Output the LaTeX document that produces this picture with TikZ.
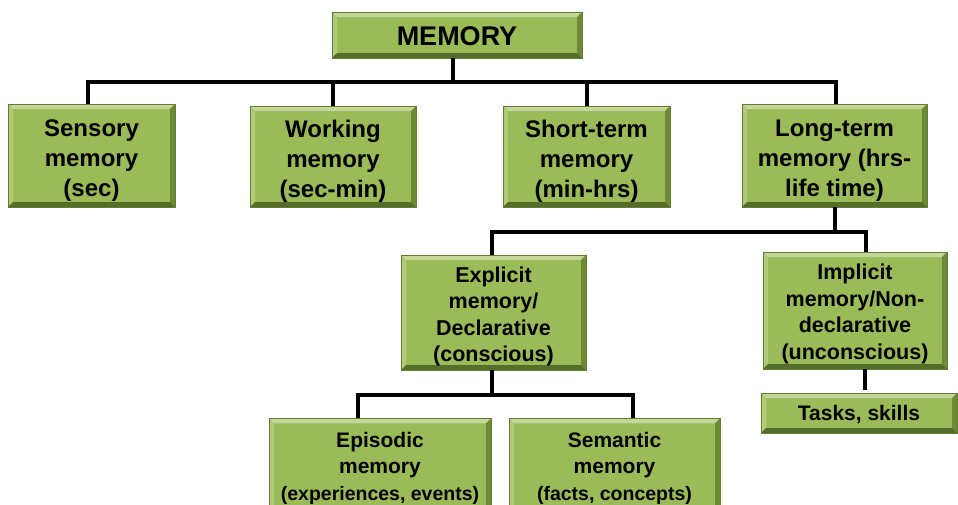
\documentclass[tikz,border=0pt]{standalone}
\usepackage{fontspec}
\setmainfont{Liberation Sans}
\definecolor{boxfill}{RGB}{155,187,89}
\definecolor{bevtop}{RGB}{196,215,155}
\definecolor{bevleft}{RGB}{176,202,120}
\definecolor{bevright}{RGB}{110,138,55}
\definecolor{bevbot}{RGB}{86,108,42}
\definecolor{boxedge}{RGB}{100,125,50}
\newcommand{\bb}{path picture bounding box}
\newcommand{\dn}[1]{\rule{0pt}{#1}}
\tikzset{
  memnode/.style={draw=boxedge, line width=0.8pt, fill=boxfill, inner sep=0pt,
    align=center, font=\bfseries, text=black,
    path picture={
      \fill[bevtop] (\bb.north west) -- (\bb.north east) -- ([xshift=-5pt,yshift=-5pt]\bb.north east) -- ([xshift=5pt,yshift=-5pt]\bb.north west) -- cycle;
      \fill[bevleft] (\bb.north west) -- ([xshift=5pt,yshift=-5pt]\bb.north west) -- ([xshift=5pt,yshift=5pt]\bb.south west) -- (\bb.south west) -- cycle;
      \fill[bevright] (\bb.north east) -- ([xshift=-5pt,yshift=-5pt]\bb.north east) -- ([xshift=-5pt,yshift=5pt]\bb.south east) -- (\bb.south east) -- cycle;
      \fill[bevbot] (\bb.south west) -- ([xshift=5pt,yshift=5pt]\bb.south west) -- ([xshift=-5pt,yshift=5pt]\bb.south east) -- (\bb.south east) -- cycle;
    }},
  bigtext/.style={font=\fontsize{24}{30}\selectfont\bfseries},
  midtext/.style={font=\fontsize{21.5}{26.5}\selectfont\bfseries},
  smalltext/.style={font=\fontsize{21}{26.5}\selectfont\bfseries},
  conn/.style={line width=4pt, black},
}
\begin{document}
\begin{tikzpicture}[x=1pt,y=-1pt]
\useasboundingbox (0,0) rectangle (958,504);
% boxes
\node[memnode, minimum width=250pt, minimum height=46pt, font=\fontsize{27}{30}\selectfont\bfseries] (mem) at (457,35) {\dn{21pt}MEMORY};
\node[memnode, bigtext, minimum width=167pt, minimum height=103pt] (sens) at (91.5,155.5) {\dn{27pt}Sensory\\memory\\(sec)};
\node[memnode, bigtext, minimum width=166pt, minimum height=101pt] (work) at (333,156.5) {\dn{26pt}Working\\memory\\(sec-min)};
\node[memnode, bigtext, minimum width=167pt, minimum height=101pt] (short) at (586.5,156.5) {\dn{26pt}Short-term\\memory\\(min-hrs)};
\node[memnode, bigtext, minimum width=185pt, minimum height=103pt] (long) at (834.5,155.5) {\dn{27pt}Long-term\\memory (hrs-\\life time)};
\node[memnode, midtext, minimum width=185pt, minimum height=115pt] (expl) at (493.5,312.5) {\dn{23pt}Explicit\\memory/\\Declarative\\(conscious)};
\node[memnode, midtext, minimum width=184pt, minimum height=117pt] (impl) at (855,310.5) {\dn{22pt}Implicit\\memory/Non-\\declarative\\(unconscious)};
\node[memnode, minimum width=196pt, minimum height=40pt, font=\fontsize{21}{24}\selectfont\bfseries] (tasks) at (859,413) {\dn{18pt}Tasks, skills};
\node[memnode, smalltext, minimum width=222pt, minimum height=100pt, anchor=north] (epi) at (380,418) {Episodic\\memory\\{\fontsize{19.5}{26.5}\selectfont (experiences, events)}};
\node[memnode, smalltext, minimum width=211pt, minimum height=100pt, anchor=north] (sem) at (614.5,418) {Semantic\\memory\\{\fontsize{19.5}{26.5}\selectfont (facts, concepts)}};
% connector coordinates
\coordinate (b1) at (453,82);
\coordinate (b2) at (835,232);
\coordinate (b3) at (492,395);
% top level
\draw[conn] (mem.south -| b1) -- (b1);
\draw[conn] (sens.north -| 88,0) -- (88,82) -- (836,82) -- (long.north -| 836,0);
\draw[conn] (work.north -| 333,0) -- (333,82);
\draw[conn] (short.north -| 587,0) -- (587,82);
% long-term split
\draw[conn] (long.south -| b2) -- (b2);
\draw[conn] (expl.north -| 492,0) -- (492,232) -- (866,232) -- (impl.north -| 866,0);
% explicit split
\draw[conn] (expl.south -| b3) -- (b3);
\draw[conn] (epi.north -| 358,0) -- (358,395) -- (633,395) -- (sem.north -| 633,0);
% implicit to tasks
\draw[conn] (impl.south -| 865,0) -- (865,390);
\end{tikzpicture}
\end{document}
